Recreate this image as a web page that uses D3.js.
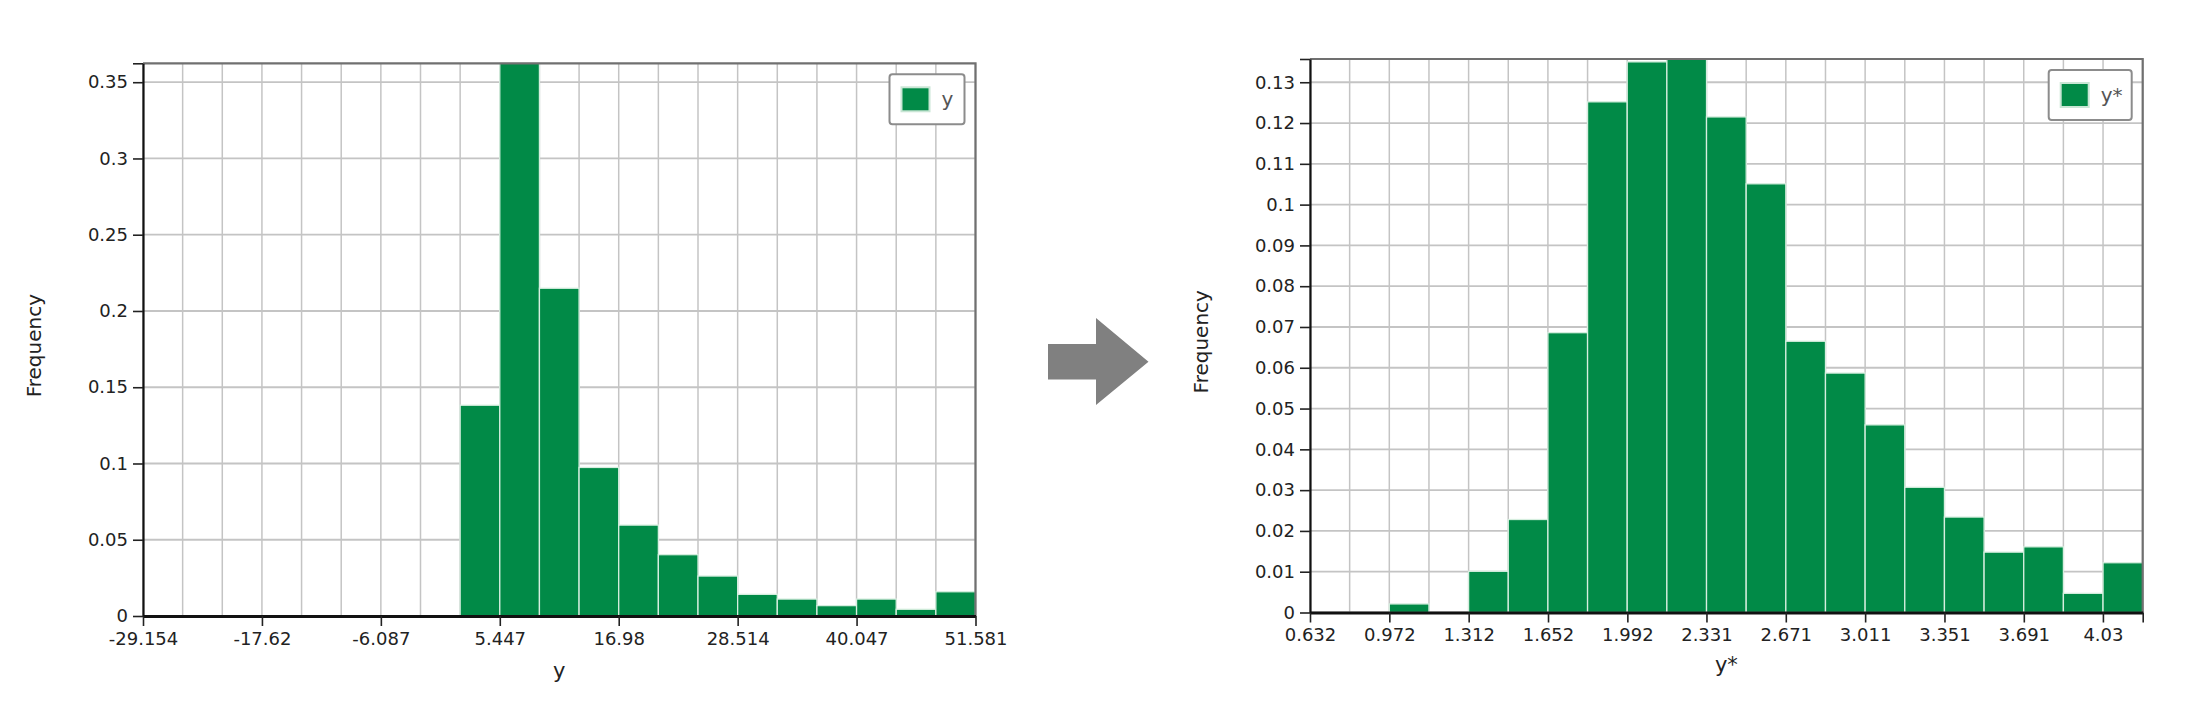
<!DOCTYPE html>
<html>
<head>
<meta charset="utf-8">
<script src="https://cdn.jsdelivr.net/npm/d3@7"></script>
<style>
  html, body { margin: 0; padding: 0; background: #ffffff; }
  svg { display: block; font-family: "DejaVu Sans", Verdana, sans-serif; }
</style>
</head>
<body>
<svg id="chart" width="2196" height="718"></svg>
<script>
// ---------- data ----------
const leftName = "y";
const leftRange = [-29.154, 51.581];
const leftFreq = [0, 0, 0, 0, 0, 0, 0, 0, 0.1382, 0.3624, 0.2149, 0.0974, 0.0596, 0.0402,
                  0.0262, 0.0142, 0.0111, 0.0068, 0.0111, 0.0044, 0.0159];
const leftXTickLabels = ["-29.154", "-17.62", "-6.087", "5.447", "16.98", "28.514", "40.047", "51.581"];
const leftYTicks = [0, 0.05, 0.1, 0.15, 0.2, 0.25, 0.3, 0.35];

const rightName = "y*";
const rightRange = [0.632, 4.2005];
const rightFreq = [0, 0, 0.0021, 0, 0.0101, 0.0228, 0.0686, 0.1252, 0.1350, 0.1357, 0.1215,
                   0.1051, 0.0665, 0.0587, 0.0460, 0.0307, 0.0234, 0.0148, 0.0161, 0.0047, 0.0122];
const rightXTickLabels = ["0.632", "0.972", "1.312", "1.652", "1.992", "2.331", "2.671", "3.011", "3.351", "3.691", "4.03"];
const rightYTicks = [0, 0.01, 0.02, 0.03, 0.04, 0.05, 0.06, 0.07, 0.08, 0.09, 0.1, 0.11, 0.12, 0.13];

const yAxisTitle = "Frequency";

// ---------- drawing ----------
const svg = d3.select("#chart");
const GREEN = "#018a47";

function histogram(cfg) {
  const g = svg.append("g");
  const n = cfg.freq.length;
  const bw = (cfg.range[1] - cfg.range[0]) / n;
  const bins = cfg.freq.map((f, i) => ({x0: cfg.range[0] + i * bw, x1: cfg.range[0] + (i + 1) * bw, f}));
  const x = d3.scaleLinear().domain(cfg.range).range([cfg.left, cfg.right]);
  const y = d3.scaleLinear().domain([0, d3.max(cfg.freq)]).range([cfg.bottom, cfg.top]);

  // vertical gridlines at every bin edge
  const edges = d3.range(n + 1).map(i => cfg.range[0] + i * bw);
  g.append("g").selectAll("line").data(edges).join("line")
    .attr("x1", d => x(d)).attr("x2", d => x(d))
    .attr("y1", cfg.top).attr("y2", cfg.bottom)
    .attr("stroke", "#c4c4c4").attr("stroke-width", 1.5);
  // horizontal gridlines
  g.append("g").selectAll("line").data(cfg.yTicks).join("line")
    .attr("x1", cfg.left).attr("x2", cfg.right)
    .attr("y1", d => y(d)).attr("y2", d => y(d))
    .attr("stroke", "#c4c4c4").attr("stroke-width", 1.8);

  // bars
  g.append("g").selectAll("rect").data(bins.filter(b => b.f > 0)).join("rect")
    .attr("x", d => x(d.x0)).attr("width", d => x(d.x1) - x(d.x0))
    .attr("y", d => y(d.f)).attr("height", d => y(0) - y(d.f))
    .attr("fill", GREEN).attr("stroke", "#d6eedf").attr("stroke-width", 1.3);

  // frame top / right
  g.append("path")
    .attr("d", `M${cfg.left},${cfg.top}H${cfg.right}V${cfg.bottom}`)
    .attr("fill", "none").attr("stroke", "#707070").attr("stroke-width", 2.2);

  // x axis
  const xTickVals = cfg.xTickLabels.map(Number);
  const xAxis = d3.axisBottom(x)
    .tickValues(xTickVals.concat(cfg.extraXEnd ? [cfg.range[1]] : []))
    .tickFormat((d, i) => i < cfg.xTickLabels.length ? cfg.xTickLabels[i] : "")
    .tickSize(10).tickPadding(6).tickSizeOuter(0);
  const gx = g.append("g").attr("transform", `translate(0,${cfg.bottom})`).call(xAxis);
  gx.select(".domain").attr("stroke", "#111").attr("stroke-width", 3);
  gx.selectAll(".tick line").attr("stroke", "#222").attr("stroke-width", 1.6);
  gx.selectAll(".tick text").attr("font-size", 18).attr("fill", "#222")
    .attr("font-family", "DejaVu Sans, sans-serif");

  // y axis
  const yAxis = d3.axisLeft(y)
    .tickValues(cfg.yTicks.concat([d3.max(cfg.freq)]))
    .tickFormat((d, i) => i < cfg.yTicks.length ? String(d) : "")
    .tickSize(10).tickPadding(5).tickSizeOuter(0);
  const gy = g.append("g").attr("transform", `translate(${cfg.left},0)`).call(yAxis);
  gy.select(".domain").attr("stroke", "#111").attr("stroke-width", 2.2);
  gy.selectAll(".tick line").attr("stroke", "#222").attr("stroke-width", 1.6);
  gy.selectAll(".tick text").attr("font-size", 18).attr("fill", "#222")
    .attr("font-family", "DejaVu Sans, sans-serif");

  // axis titles
  g.append("text").attr("x", (cfg.left + cfg.right) / 2).attr("y", cfg.xTitleY)
    .attr("text-anchor", "middle").attr("font-size", 21).attr("fill", "#222").text(cfg.name);
  g.append("text")
    .attr("transform", `translate(${cfg.yTitleX},${(cfg.top + cfg.bottom) / 2 + 6}) rotate(-90)`)
    .attr("text-anchor", "middle").attr("font-size", 20).attr("fill", "#222").text(yAxisTitle);

  // legend
  const lw = cfg.legendW, lh = 50;
  const lx = cfg.right - 11 - lw, ly = cfg.top + 11;
  const lg = g.append("g").attr("transform", `translate(${lx},${ly})`);
  lg.append("rect").attr("width", lw).attr("height", lh).attr("rx", 3)
    .attr("fill", "#fff").attr("stroke", "#8c8c8c").attr("stroke-width", 2);
  lg.append("rect").attr("x", 12).attr("y", 13).attr("width", 28).attr("height", 24)
    .attr("fill", GREEN).attr("stroke", "#c9e6d5").attr("stroke-width", 2);
  lg.append("text").attr("x", 52).attr("y", 32).attr("font-size", 20)
    .attr("fill", "#555").text(cfg.name);
}

histogram({
  name: leftName, range: leftRange, freq: leftFreq, xTickLabels: leftXTickLabels, yTicks: leftYTicks,
  left: 143, right: 975.5, top: 63.3, bottom: 616, xTitleY: 678, yTitleX: 41, legendW: 75, extraXEnd: false
});
histogram({
  name: rightName, range: rightRange, freq: rightFreq, xTickLabels: rightXTickLabels, yTicks: rightYTicks,
  left: 1310, right: 2142.7, top: 59, bottom: 612.5, xTitleY: 672, yTitleX: 1208, legendW: 83, extraXEnd: true
});

// arrow between the two charts
const arrow = [[1048, 344], [1096, 344], [1096, 318], [1148.5, 361.7], [1096, 405], [1096, 379.4], [1048, 379.4]];
svg.append("path").attr("d", d3.line()(arrow) + "Z").attr("fill", "#808080");
</script>
</body>
</html>
